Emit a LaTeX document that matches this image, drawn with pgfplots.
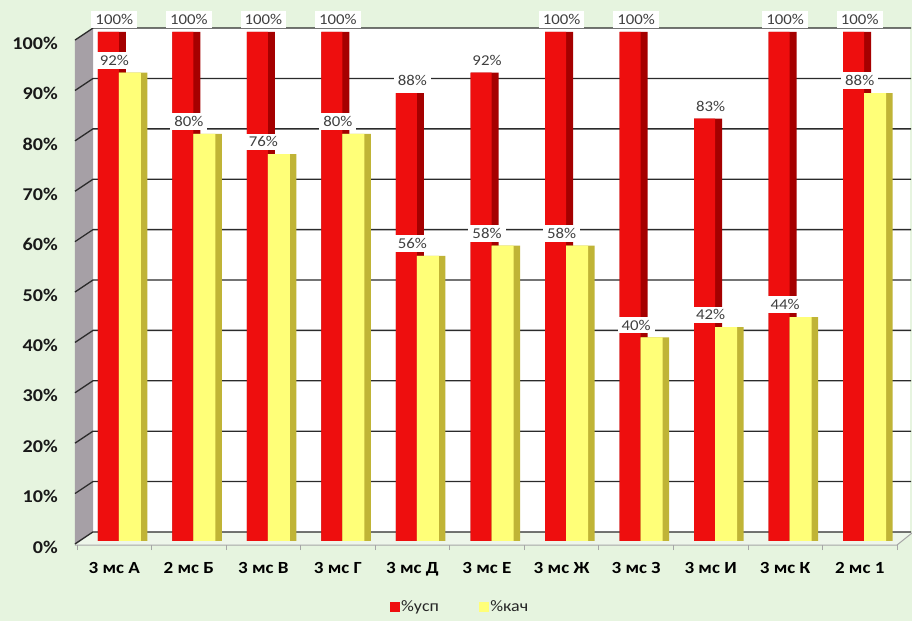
\documentclass[border=0pt]{standalone}
\usepackage{fontspec}
\setmainfont{Carlito}[FakeStretch=1.12]
\usepackage{pgfplots}
\usepackage{pgfplotstable}
\pgfplotsset{compat=1.18}
\definecolor{bgc}{HTML}{E6F4DF}
\definecolor{wallc}{HTML}{A6A0A6}
\definecolor{floorc}{HTML}{EEF6EA}
\definecolor{gridc}{HTML}{2B2B2B}
\definecolor{redc}{HTML}{EE0E0E}
\definecolor{reddark}{HTML}{A50000}
\definecolor{yelc}{HTML}{FFFF78}
\definecolor{yeldark}{HTML}{C0B436}
\definecolor{labc}{HTML}{404040}

\pgfplotstableread{
x usp kach
0 100 92
1 100 80
2 100 76
3 100 80
4 88 56
5 92 58
6 100 58
7 100 40
8 83 42
9 100 44
10 100 88
}\data

\begin{document}
\begin{tikzpicture}
\useasboundingbox (-77pt,-76pt) rectangle (835pt,545pt);
\fill[bgc] (-77pt,-76pt) rectangle (835pt,545pt);
\fill[white] (16pt,13pt) rectangle (833pt,517pt);
\fill[floorc] (-2pt,0pt) -- (16pt,13pt) -- (835pt,13pt) -- (835pt,12pt) -- (820pt,0pt) -- cycle;
\fill[wallc] (-2pt,0pt) -- (16pt,13pt) -- (16pt,517pt) -- (-2pt,505pt) -- cycle;
\draw[gray!70, line width=1pt] (-2pt,0pt) -- (820pt,0pt) -- (835pt,12pt);
\begin{axis}[
  scale only axis, width=820pt, height=513pt,
  xmin=-0.5, xmax=10.5, ymin=-0.8, ymax=100,
  clip=false,
  /pgf/number format/assume math mode=true,
  axis line style={draw=none},
  xtick={0,...,10},
  xticklabels={3 мс А,2 мс Б,3 мс В,3 мс Г,3 мс Д,3 мс Е,3 мс Ж,3 мс З,3 мс И,3 мс К,2 мс 1},
  minor xtick={-0.5,0.5,...,10.5},
  ytick={-0.8,9.1,19.0,28.9,38.8,48.7,58.6,68.5,78.4,88.3,98.2},
  yticklabels={0\%,10\%,20\%,30\%,40\%,50\%,60\%,70\%,80\%,90\%,100\%},
  major tick length=0pt, minor tick length=5pt, tick align=outside,
  xtick pos=bottom, ytick pos=left,
  minor tick style={gray!70, line width=0.8pt},
  xticklabel style={font=\fontsize{17}{20}\selectfont\bfseries, text=black, anchor=north, inner sep=0pt, yshift=-17pt},
  yticklabel style={font=\fontsize{18}{21}\selectfont\bfseries, text=black!90, anchor=east, inner sep=0pt, xshift=-19pt, yshift=-2pt},
  legend style={at={(0.467,-0.121)}, anchor=center, draw=none, fill=none,
    font=\fontsize{16}{19}\selectfont, text=black!85, legend columns=2,
    /tikz/every even column/.append style={column sep=38pt}},
  legend cell align=left,
]
\pgfplotsinvokeforeach{0,10,...,100}{
  \draw[gridc, line width=1.3pt] ([shift={(-2pt,-3pt)}]axis cs:-0.5,{0.99*#1}) -- ([shift={(16pt,9pt)}]axis cs:-0.5,{0.99*#1}) -- ([shift={(14pt,9pt)}]axis cs:10.5,{0.99*#1});
}
\addplot[ybar, bar width=28pt, bar shift=-2.5pt, fill=reddark, draw=none, forget plot] table[x=x,y=usp]{\data};
\addplot[ybar, bar width=21pt, bar shift=-6pt, fill=redc, draw=none, forget plot,
  point meta=y, nodes near coords={\pgfmathprintnumber{\pgfplotspointmeta}\%},
  every node near coord/.append style={font=\fontsize{15}{18}\selectfont, text=labc, fill=white, inner xsep=4pt, inner ysep=3pt, anchor=south, yshift=4pt}] table[x=x,y=usp]{\data};
\addplot[ybar, bar width=28.5pt, bar shift=18.75pt, fill=yeldark, draw=none, forget plot] table[x=x,y=kach]{\data};
\addplot[ybar, bar width=22pt, bar shift=15.5pt, fill=yelc, draw=none, forget plot,
  point meta=y, nodes near coords={\pgfmathprintnumber{\pgfplotspointmeta}\%},
  every node near coord/.append style={font=\fontsize{15}{18}\selectfont, text=labc, fill=white, inner xsep=4pt, inner ysep=3pt, anchor=south, yshift=4pt}] table[x=x,y=kach]{\data};
\addlegendimage{legend image code/.code={\fill[redc] (0pt,-4.5pt) rectangle (9pt,4.5pt);}}
\addlegendentry{\%усп}
\addlegendimage{legend image code/.code={\fill[yelc] (0pt,-4.5pt) rectangle (9pt,4.5pt);}}
\addlegendentry{\%кач}
\end{axis}
\end{tikzpicture}
\end{document}
